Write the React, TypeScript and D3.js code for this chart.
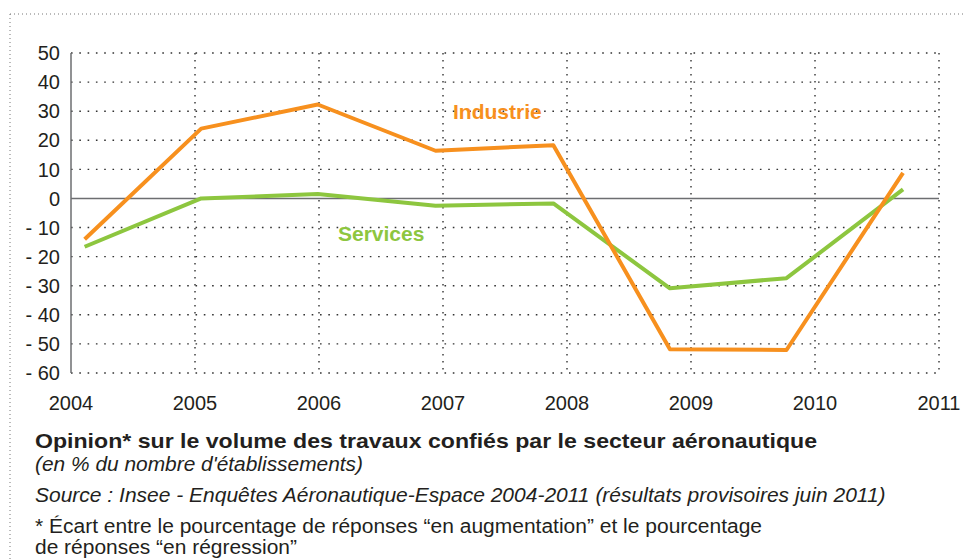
import * as d3 from "d3";

// ── Data ────────────────────────────────────────────────
const years = [2004, 2005, 2006, 2007, 2008, 2009, 2010, 2011];
const yTicks = [50, 40, 30, 20, 10, 0, -10, -20, -30, -40, -50, -60];
// survey dates (placed between year gridlines, as in the source chart)
const surveyDates = [2004.11, 2005.05, 2005.99, 2006.94, 2007.89, 2008.83, 2009.77, 2010.71];
const industrie = [-14, 24, 32.3, 16.4, 18.3, -51.8, -52.1, 8.8];
const services = [-16.6, 0, 1.5, -2.5, -1.7, -30.9, -27.4, 3.1];

// ── Colors ──────────────────────────────────────────────
const ORANGE = "#f7901e";
const GREEN = "#8dc63f";
const TEXT = "#231f20";
const AXIS = "#6d6e71";
const FONT = "'Liberation Sans', Arial, Helvetica, sans-serif";

// ── Layout ──────────────────────────────────────────────
const W = 965;
const H = 560;
const plot = { left: 71, right: 939, top: 53, bottom: 373 };

const x = d3.scaleLinear().domain([2004, 2011]).range([plot.left, plot.right]);
const y = d3.scaleLinear().domain([-60, 50]).range([plot.bottom, plot.top]);

const line = d3
  .line<number>()
  .x((_, i) => x(surveyDates[i]))
  .y(d => y(d));

const fmt = (v: number) => (v < 0 ? `- ${Math.abs(v)}` : `${v}`);

export default function App() {
  return (
    <div style={{ position: "absolute", left: 0, top: 0 }}>
      <svg width={W} height={H} style={{ display: "block", background: "#fff" }} fontFamily={FONT}>
        {/* outer dotted frame */}
        <line x1={10} x2={W} y1={14} y2={14} stroke="#777" strokeWidth={1} strokeDasharray="1,3" />
        <line x1={10} x2={10} y1={14} y2={H} stroke="#777" strokeWidth={1} strokeDasharray="1,3" />

        {/* horizontal grid */}
        {yTicks.filter(t => t !== 0).map(t => (
          <line key={t} x1={plot.left} x2={plot.right} y1={y(t)} y2={y(t)}
            stroke="#333" strokeWidth={1.4} strokeDasharray="1.6,6.7" />
        ))}
        {/* vertical grid */}
        {years.slice(1).map(yr => (
          <line key={yr} x1={x(yr)} x2={x(yr)} y1={plot.top} y2={plot.bottom}
            stroke="#333" strokeWidth={1.4} strokeDasharray="1.6,5.4" />
        ))}

        {/* axes */}
        <line x1={plot.left} x2={plot.left} y1={plot.top} y2={plot.bottom} stroke={AXIS} strokeWidth={1.5} />
        <line x1={plot.left} x2={plot.right} y1={y(0)} y2={y(0)} stroke={AXIS} strokeWidth={1.5} />

        {/* y labels */}
        {yTicks.map(t => (
          <text key={t} x={60} y={y(t)} dy="0.36em" textAnchor="end" fontSize={20} fill={TEXT}>
            {fmt(t)}
          </text>
        ))}
        {/* x labels */}
        {years.map(yr => (
          <text key={yr} x={x(yr)} y={410} textAnchor="middle" fontSize={20} fill={TEXT}>
            {yr}
          </text>
        ))}

        {/* series */}
        <path d={line(services) ?? ""} fill="none" stroke={GREEN} strokeWidth={4} strokeLinejoin="round" />
        <path d={line(industrie) ?? ""} fill="none" stroke={ORANGE} strokeWidth={4} strokeLinejoin="round" />

        <text x={453} y={119} fontSize={21} fontWeight={700} fill={ORANGE}>Industrie</text>
        <text x={338} y={241} fontSize={21} fontWeight={700} fill={GREEN}>Services</text>

        {/* captions */}
        <text x={35} y={448} fontSize={21} fontWeight={700} fill={TEXT} textLength={782} lengthAdjust="spacingAndGlyphs">
          Opinion* sur le volume des travaux confiés par le secteur aéronautique
        </text>
        <text x={35} y={471} fontSize={20} fontStyle="italic" fill={TEXT} textLength={328} lengthAdjust="spacingAndGlyphs">
          (en % du nombre d'établissements)
        </text>
        <text x={35} y={502} fontSize={21} fontStyle="italic" fill={TEXT}>
          Source : Insee - Enquêtes Aéronautique-Espace 2004-2011 (résultats provisoires juin 2011)
        </text>
        <text x={35} y={533} fontSize={19.5} fill={TEXT} textLength={727} lengthAdjust="spacingAndGlyphs">
          * Écart entre le pourcentage de réponses “en augmentation” et le pourcentage
        </text>
        <text x={35} y={554} fontSize={19.5} fill={TEXT} textLength={262} lengthAdjust="spacingAndGlyphs">
          de réponses “en régression”
        </text>
      </svg>
    </div>
  );
}
